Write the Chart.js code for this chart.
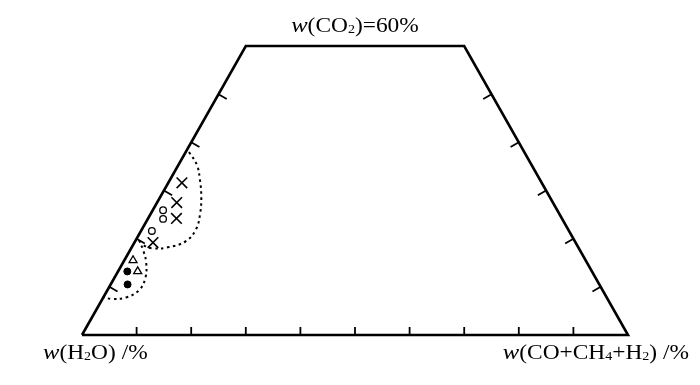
<!DOCTYPE html>
<html>
<head>
<meta charset="utf-8">
<script src="https://cdn.jsdelivr.net/npm/chart.js@4/dist/chart.umd.min.js"></script>
<style>
html,body{margin:0;padding:0;background:#fff;}
#wrap{width:700px;height:385px;position:relative;}
</style>
</head>
<body>
<div id="wrap"><canvas id="c" width="700" height="385"></canvas></div>
<script>
// ---- data (ternary components, %) : CO2 and CO+CH4+H2 ("gas"); H2O = 100 - CO2 - gas
const topCO2 = 60;
const bottomTicks = [10, 20, 30, 40, 50, 60, 70, 80, 90];
const sideTicks = [10, 20, 30, 40, 50];

const crossCO2 = [31.6, 27.5, 24.2, 19.2];
const crossGas = [2.5, 3.6, 5.2, 3.4];

const openCircleCO2 = [25.9, 24.1, 21.6];
const openCircleGas = [1.9, 2.8, 2.0];

const triangleCO2 = [15.5, 13.2];
const triangleGas = [1.6, 3.6];

const dotCO2 = [13.2, 10.5];
const dotGas = [1.7, 3.1];

const bigLoopCO2 = [38.0, 35.3, 32.2, 28.7, 25.3, 22.0, 19.5, 18.2, 18.0, 18.7];
const bigLoopGas = [0.6, 3.4, 5.5, 7.5, 9.0, 9.9, 9.3, 6.6, 3.8, 1.7];

const smallLoopCO2 = [19.7, 17.6, 15.1, 11.8, 9.3, 7.8, 7.5, 7.8];
const smallLoopGas = [0.6, 2.4, 4.2, 5.7, 5.8, 4.2, 1.7, 0.1];

const labelTop = ['w', '(CO', '2', ')=60%'];
const labelLeft = ['w', '(H', '2', 'O) /%'];
const labelRight = ['w', '(CO+CH', '4', '+H', '2', ') /%'];

// ---- helpers
const S3 = Math.sqrt(3) / 2;
function toXY(co2, gas) { return { x: gas + co2 / 2, y: co2 * S3 }; }
function pts(co2, gas) { return co2.map((c, i) => toXY(c, gas[i])); }

const outline = [toXY(0, 0), toXY(topCO2, 0), toXY(topCO2, 100 - topCO2), toXY(0, 100), toXY(0, 0)];

const FONT = '"Liberation Serif", "Times New Roman", serif';
const STRETCH = 1.17;
function richParts(arr) {
  return arr.map((t, i) => {
    if (i === 0) return { t, f: 'italic 21px ' + FONT, dy: 0 };
    if (/^[0-9]$/.test(t)) return { t, f: '12px ' + FONT, dy: 1 };
    return { t, f: '20px ' + FONT, dy: 0 };
  });
}
function drawRich(ctx, arr, x, y, align) {
  const parts = richParts(arr);
  let w = 0;
  parts.forEach(p => { ctx.font = p.f; p.w = ctx.measureText(p.t).width; w += p.w; });
  const W = w * STRETCH;
  const x0 = align === 'center' ? x - W / 2 : align === 'right' ? x - W : x;
  ctx.save();
  ctx.translate(x0, y);
  ctx.scale(STRETCH, 1);
  ctx.fillStyle = '#000';
  ctx.textBaseline = 'alphabetic';
  ctx.textAlign = 'left';
  let cx = 0;
  parts.forEach(p => { ctx.font = p.f; ctx.fillText(p.t, cx, p.dy); cx += p.w; });
  ctx.restore();
}

const decor = {
  id: 'decor',
  afterDatasetsDraw(chart) {
    const ctx = chart.ctx, sx = chart.scales.x, sy = chart.scales.y;
    const P = (c, g) => { const q = toXY(c, g); return [sx.getPixelForValue(q.x), sy.getPixelForValue(q.y)]; };
    ctx.save();
    ctx.strokeStyle = '#000';
    ctx.lineWidth = 1.8;
    ctx.lineCap = 'butt';
    bottomTicks.forEach(v => {
      const [px, py] = P(0, v);
      ctx.beginPath(); ctx.moveTo(px, py); ctx.lineTo(px, py - 8); ctx.stroke();
    });
    sideTicks.forEach(v => {
      const [px, py] = P(v, 0);
      ctx.beginPath(); ctx.moveTo(px, py); ctx.lineTo(px + 9.5 * 0.866, py + 9.5 * 0.5); ctx.stroke();
    });
    sideTicks.forEach(v => {
      const [px, py] = P(v, 100 - v);
      ctx.beginPath(); ctx.moveTo(px, py); ctx.lineTo(px - 9.5 * 0.866, py + 9.5 * 0.5); ctx.stroke();
    });
    drawRich(ctx, labelTop, 355, 32, 'center');
    drawRich(ctx, labelLeft, 43, 359, 'left');
    drawRich(ctx, labelRight, 689, 359, 'right');
    ctx.restore();
  }
};

new Chart(document.getElementById('c'), {
  type: 'scatter',
  data: {
    datasets: [
      { label: 'outline', data: outline, showLine: true, borderColor: '#000', borderWidth: 2.6,
        pointRadius: 0, fill: false, clip: false, borderJoinStyle: 'miter', tension: 0 },
      { label: 'bigLoop', data: pts(bigLoopCO2, bigLoopGas), showLine: true, borderColor: '#000',
        borderWidth: 2, borderDash: [2.5, 3.5], pointRadius: 0, tension: 0.4, fill: false },
      { label: 'smallLoop', data: pts(smallLoopCO2, smallLoopGas), showLine: true, borderColor: '#000',
        borderWidth: 2, borderDash: [2.5, 3.5], pointRadius: 0, tension: 0.4, fill: false },
      { label: 'cross', data: pts(crossCO2, crossGas), pointStyle: 'crossRot', pointRadius: 7.5,
        borderColor: '#000', borderWidth: 1.6, showLine: false },
      { label: 'openCircle', data: pts(openCircleCO2, openCircleGas), pointStyle: 'circle', pointRadius: 3.3,
        borderColor: '#000', backgroundColor: '#fff', borderWidth: 1.3, showLine: false },
      { label: 'triangle', data: pts(triangleCO2, triangleGas), pointStyle: 'triangle', pointRadius: 4.6,
        borderColor: '#000', backgroundColor: '#fff', borderWidth: 1.3, showLine: false },
      { label: 'dot', data: pts(dotCO2, dotGas), pointStyle: 'circle', pointRadius: 3.5,
        borderColor: '#000', backgroundColor: '#000', borderWidth: 1, showLine: false }
    ]
  },
  options: {
    responsive: false,
    animation: false,
    events: [],
    layout: { padding: { left: 82, right: 72, top: 46, bottom: 50 } },
    plugins: { legend: { display: false }, tooltip: { enabled: false }, title: { display: false } },
    scales: {
      x: { type: 'linear', min: 0, max: 100, display: false },
      y: { type: 'linear', min: 0, max: topCO2 * S3, display: false }
    }
  },
  plugins: [decor]
});
</script>
</body>
</html>
